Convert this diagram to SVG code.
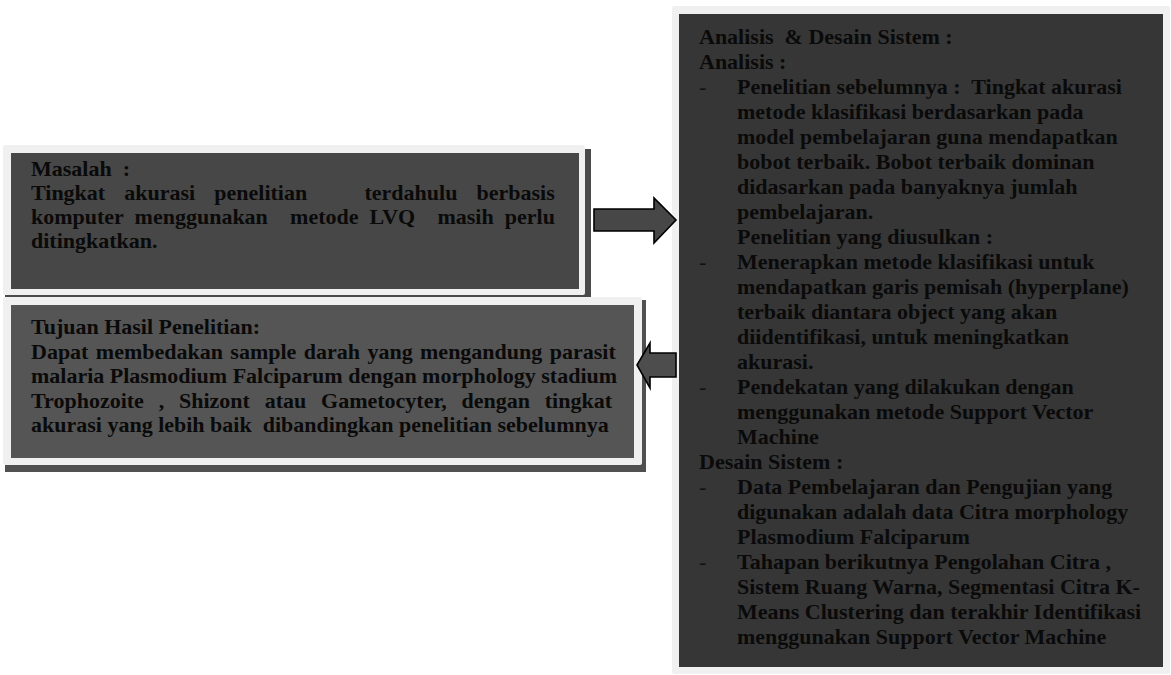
<svg xmlns="http://www.w3.org/2000/svg" width="1171" height="675" viewBox="0 0 1171 675">
<style>
.t{font-family:"Liberation Serif","Times New Roman",serif;font-weight:bold;font-size:22px;fill:#0a0a0a;white-space:pre}
.d{font-family:"Liberation Serif","Times New Roman",serif;font-weight:normal;font-size:22px;fill:#111;white-space:pre}
.frame{fill:#f0f0f0}
.arrow{stroke:#000;stroke-width:1.6;stroke-linejoin:miter}
</style>
<rect width="1171" height="675" fill="#ffffff"/>
<g id="masalah">
<rect x="5" y="149" width="586" height="148" fill="#4a4a4a"/>
<rect class="frame" x="3" y="145" width="582" height="150" rx="2"/>
<rect x="11" y="153" width="568" height="136" fill="#474747"/>
<text class="t" x="31" y="176">Masalah  :</text>
<text class="t" x="31" y="200" style="word-spacing:13.6px">Tingkat akurasi penelitian   terdahulu berbasis</text>
<text class="t" x="31" y="224" style="word-spacing:5.6px">komputer menggunakan  metode LVQ  masih perlu</text>
<text class="t" x="31" y="248">ditingkatkan.</text>
</g>
<g id="tujuan">
<rect x="5" y="300" width="641" height="172" fill="#505050"/>
<rect class="frame" x="3" y="297" width="639" height="168" rx="2"/>
<rect x="11" y="305" width="623" height="153" fill="#555555"/>
<text class="t" x="31" y="334">Tujuan Hasil Penelitian:</text>
<text class="t" x="31" y="358.5" style="word-spacing:1.9px">Dapat membedakan sample darah yang mengandung parasit</text>
<text class="t" x="31" y="383">malaria Plasmodium Falciparum dengan morphology stadium</text>
<text class="t" x="31" y="407.5" style="word-spacing:9.3px">Trophozoite , Shizont atau Gametocyter, dengan tingkat</text>
<text class="t" x="31" y="432">akurasi yang lebih baik  dibandingkan penelitian sebelumnya</text>
</g>
<g id="analisis">
<rect class="frame" x="672" y="6" width="498" height="668" rx="2"/>
<rect x="679" y="14" width="484" height="653" fill="#363636"/>
<text class="t" x="699" y="44">Analisis  &amp; Desain Sistem :</text>
<text class="t" x="699" y="69">Analisis :</text>
<text class="d" x="699" y="94">-</text>
<text class="t" x="737" y="94">Penelitian sebelumnya :  Tingkat akurasi</text>
<text class="t" x="737" y="119">metode klasifikasi berdasarkan pada</text>
<text class="t" x="737" y="144">model pembelajaran guna mendapatkan</text>
<text class="t" x="737" y="169">bobot terbaik. Bobot terbaik dominan</text>
<text class="t" x="737" y="194">didasarkan pada banyaknya jumlah</text>
<text class="t" x="737" y="219">pembelajaran.</text>
<text class="t" x="737" y="244">Penelitian yang diusulkan :</text>
<text class="d" x="699" y="269">-</text>
<text class="t" x="737" y="269">Menerapkan metode klasifikasi untuk</text>
<text class="t" x="737" y="294">mendapatkan garis pemisah (hyperplane)</text>
<text class="t" x="737" y="319">terbaik diantara object yang akan</text>
<text class="t" x="737" y="344">diidentifikasi, untuk meningkatkan</text>
<text class="t" x="737" y="369">akurasi.</text>
<text class="d" x="699" y="394">-</text>
<text class="t" x="737" y="394">Pendekatan yang dilakukan dengan</text>
<text class="t" x="737" y="419">menggunakan metode Support Vector</text>
<text class="t" x="737" y="444">Machine</text>
<text class="t" x="699" y="469">Desain Sistem :</text>
<text class="d" x="699" y="494">-</text>
<text class="t" x="737" y="494">Data Pembelajaran dan Pengujian yang</text>
<text class="t" x="737" y="519">digunakan adalah data Citra morphology</text>
<text class="t" x="737" y="544">Plasmodium Falciparum</text>
<text class="d" x="699" y="569">-</text>
<text class="t" x="737" y="569">Tahapan berikutnya Pengolahan Citra ,</text>
<text class="t" x="737" y="594">Sistem Ruang Warna, Segmentasi Citra K-</text>
<text class="t" x="737" y="619">Means Clustering dan terakhir Identifikasi</text>
<text class="t" x="737" y="644">menggunakan Support Vector Machine</text>
</g>
<g id="connectors">
<polygon class="arrow" fill="#474747" points="594,209 654,209 654,198 676,220 654,243 654,231 594,231"/>
<polygon class="arrow" fill="#4d4d4d" points="676,353 650,353 650,343 637,365 650,388 650,377 676,377"/>
</g>
</svg>
